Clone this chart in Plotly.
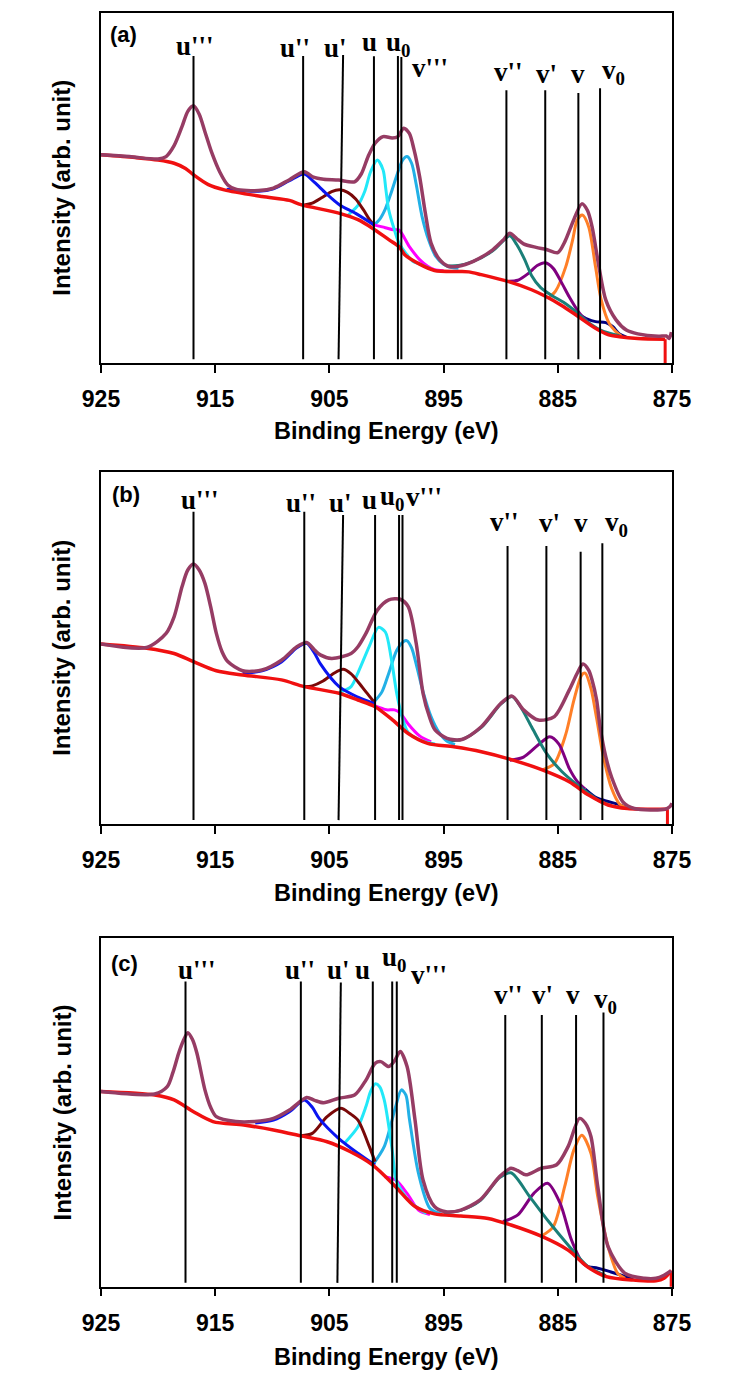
import plotly.graph_objects as go

# ---------------- data (binding energy eV, intensity arb. unit) ----------------
ENERGY_TICKS = [925, 915, 905, 895, 885, 875]
PEAK_LABELS = ["u'''", "u''", "u'", "u", "u<sub>0</sub>", "v'''", "v''", "v'", "v", "v<sub>0</sub>"]
PANEL_TAGS = ["(a)", "(b)", "(c)"]

# ---- panel (a)
A_ENV = [(925.0, 59.4), (922.5, 58.9), (920.0, 58.2), (919.3, 58.9), (918.6, 62.0), (917.9, 67.5), (917.4, 71.8),
         (916.9, 73.4), (916.4, 71.0), (915.9, 66.0), (915.3, 60.0), (914.6, 54.5), (913.9, 50.8), (913.2, 49.6),
         (911.2, 49.2), (909.9, 49.9), (908.5, 52.3), (907.2, 54.6), (906.4, 53.0), (905.5, 52.4), (904.2, 52.2),
         (902.8, 51.7), (902.2, 54.0), (901.6, 59.0), (901.0, 62.7), (900.3, 64.6), (899.5, 64.2), (899.0, 64.6),
         (898.5, 67.0), (898.0, 65.5), (897.6, 61.0), (897.1, 53.2), (896.6, 42.8), (896.1, 34.2), (895.4, 29.7),
         (894.6, 27.6), (893.7, 27.6), (892.4, 29.0), (890.7, 32.3), (889.8, 35.0), (889.2, 37.0), (888.6, 35.5),
         (888.0, 34.0), (886.9, 33.0), (886.0, 32.4), (885.0, 31.5), (884.4, 34.5), (883.6, 40.9), (882.9, 45.4),
         (882.4, 43.5), (882.0, 38.9), (881.4, 27.5), (880.8, 18.0), (879.9, 12.3), (879.0, 9.4), (878.0, 8.3),
         (876.2, 7.6), (875.5, 7.7), (875.25, 7.0), (875.05, 8.8)]
A_BG = [(925.0, 59.4), (922.0, 58.6), (920.0, 57.9), (918.6, 57.0), (917.6, 55.5), (916.9, 53.7), (915.6, 50.9),
        (914.2, 49.4), (910.9, 47.5), (908.5, 46.4), (907.5, 45.2), (904.1, 42.7), (902.5, 40.9), (901.2, 38.4),
        (899.8, 35.2), (898.9, 33.2), (898.4, 30.9), (897.1, 28.2), (895.8, 26.4), (893.7, 26.1), (892.8, 26.0),
        (891.7, 25.2), (889.3, 23.2), (887.3, 20.9), (886.0, 18.9), (884.7, 16.5), (883.4, 13.7), (881.7, 9.9),
        (880.6, 8.1), (879.6, 7.5), (878.0, 7.0), (875.6, 6.8)]
A_BG_DROP = [(875.6, 6.8), (875.6, -1.0)]
A_U2 = [(914.0, 49.6), (911.2, 49.0), (909.9, 49.7), (908.5, 52.0), (907.2, 53.9), (906.3, 51.5), (905.3, 48.4),
        (904.1, 45.1), (902.7, 42.7), (901.1, 39.4)]
A_U1 = [(907.2, 45.1), (906.5, 45.6), (905.6, 47.3), (904.8, 48.9), (904.1, 49.4), (903.4, 48.7), (902.7, 46.8),
        (902.0, 43.6), (901.5, 41.0), (901.1, 39.4)]
A_U = [(903.4, 42.0), (903.1, 43.0), (902.5, 45.0), (901.9, 49.0), (901.4, 54.5), (900.8, 57.9), (900.3, 55.1),
       (900.05, 49.4), (899.8, 43.6), (899.3, 37.9), (898.9, 34.2), (898.3, 31.3), (897.7, 29.0), (897.1, 28.3),
       (896.1, 26.8)]
A_U0 = [(901.1, 39.4), (900.1, 38.6), (899.4, 38.0), (898.9, 37.9), (898.0, 33.2), (897.1, 29.5), (896.4, 27.6),
        (895.8, 26.6), (895.0, 26.3)]
A_V3 = [(901.1, 39.4), (900.6, 41.0), (900.1, 44.0), (899.6, 48.5), (899.1, 53.5), (898.6, 57.8), (898.2, 58.9),
        (897.8, 57.0), (897.4, 51.0), (896.9, 42.0), (896.3, 35.0), (895.7, 30.5), (895.0, 28.2), (894.3, 27.2),
        (893.7, 27.0)]
A_V2 = [(894.6, 27.7), (893.7, 27.8), (892.4, 29.0), (890.7, 32.0), (889.8, 34.8), (889.2, 36.3), (888.6, 33.8),
        (887.9, 29.5), (887.3, 25.0), (886.5, 21.5), (885.5, 19.2), (884.5, 17.3), (883.4, 14.6), (882.3, 11.5),
        (881.0, 9.0), (879.6, 7.8)]
A_V1 = [(889.3, 23.3), (888.5, 23.6), (887.6, 25.5), (886.8, 27.8), (886.1, 28.6), (885.4, 27.0), (884.6, 22.5),
        (884.0, 18.9), (883.1, 14.2), (882.4, 11.8)]
A_V = [(885.8, 18.6), (885.2, 20.5), (884.3, 27.5), (883.7, 35.1), (883.3, 40.8), (882.85, 42.2), (882.3, 38.9),
       (881.7, 27.5), (881.2, 18.0), (880.5, 11.3), (879.9, 8.9), (879.4, 7.6)]
A_V0 = [(883.4, 13.7), (883.1, 13.7), (882.4, 12.5), (881.7, 11.8), (880.8, 11.5), (880.2, 10.4), (879.6, 8.3),
        (879.0, 7.4)]
A_LINE_E_TOP = [916.9, 907.3, 903.8, 901.1, 899.0, 898.7, 889.5, 886.1, 883.2, 881.3]
A_LINE_E_BOT = [916.9, 907.3, 904.2, 901.1, 899.0, 898.7, 889.5, 886.1, 883.2, 881.3]
A_LINE_TOP = [87.6, 87.6, 87.9, 87.5, 87.6, 87.3, 77.8, 77.8, 77.0, 78.4]

# ---- panel (b)
B_ENV = [(925.0, 51.1), (921.0, 50.1), (919.3, 54.1), (918.6, 58.8), (917.9, 67.4), (917.4, 72.1), (916.9, 73.8),
         (916.4, 72.1), (915.9, 68.3), (915.4, 61.7), (914.9, 54.1), (914.4, 48.9), (913.9, 46.1), (912.6, 43.5),
         (910.9, 43.7), (909.2, 46.5), (907.85, 50.3), (907.0, 51.5), (906.3, 49.4), (905.8, 48.0), (904.8, 47.0),
         (903.1, 48.4), (902.5, 50.3), (901.8, 54.1), (900.8, 60.7), (899.8, 63.6), (898.8, 63.8), (898.1, 61.7),
         (897.4, 51.3), (896.8, 37.1), (896.25, 30.5), (895.75, 26.7), (894.7, 24.3), (893.4, 24.0), (891.7, 27.6),
         (890.0, 34.2), (889.0, 36.3), (888.0, 32.4), (886.7, 29.5), (885.3, 30.5), (884.0, 38.0), (883.3, 42.8),
         (882.8, 45.4), (882.3, 43.7), (882.0, 40.9), (881.6, 35.2), (881.3, 27.6), (880.8, 19.1), (880.3, 13.4),
         (879.3, 6.3), (878.3, 4.4), (875.6, 4.2), (875.2, 4.9), (875.0, 5.9)]
B_BG = [(925.0, 51.1), (921.0, 49.9), (918.6, 48.4), (916.9, 46.1), (914.9, 43.5), (912.6, 42.3), (909.2, 40.9),
        (907.2, 39.0), (904.15, 37.1), (902.5, 35.2), (901.0, 33.3), (899.45, 29.5), (898.1, 25.7), (896.4, 22.9),
        (894.1, 21.9), (891.7, 20.5), (889.0, 18.2), (886.3, 15.3), (884.0, 12.0), (882.3, 8.2), (880.6, 5.4),
        (878.9, 4.4), (875.4, 4.2)]
B_BG_DROP = [(875.4, 4.2), (875.4, -1.0)]
B_U2 = [(912.6, 42.8), (910.9, 43.5), (909.2, 46.0), (907.85, 50.0), (907.0, 51.3), (906.3, 48.5), (905.8, 45.5),
        (904.15, 39.0), (902.5, 36.0), (901.0, 34.1)]
B_U1 = [(907.2, 39.0), (906.5, 39.2), (905.6, 40.5), (904.6, 42.8), (903.8, 43.9), (903.1, 42.6), (902.5, 40.4),
        (901.8, 37.5), (901.1, 34.7)]
B_U = [(904.15, 37.3), (903.1, 39.0), (902.5, 42.9), (901.5, 50.5), (900.7, 55.8), (900.1, 54.5), (899.6, 47.3),
       (899.1, 37.0), (898.6, 30.0), (898.1, 26.0), (896.8, 23.5), (895.75, 22.7)]
B_U0 = [(901.0, 33.5), (900.0, 32.4), (899.3, 32.4), (898.8, 31.5), (898.1, 28.4), (897.1, 25.0), (896.1, 23.3)]
B_V3 = [(901.1, 34.6), (900.4, 37.5), (899.8, 42.8), (899.1, 49.3), (898.5, 51.8), (898.2, 52.0), (897.8, 50.0),
        (897.4, 45.4), (896.8, 37.6), (896.1, 30.5), (895.4, 26.0), (894.7, 23.5), (894.0, 22.6)]
B_V2 = [(894.7, 23.6), (893.4, 24.0), (891.7, 27.4), (890.0, 34.0), (889.0, 36.2), (888.3, 33.5), (887.3, 27.6),
        (886.0, 20.1), (884.65, 14.9), (883.3, 11.1), (882.3, 8.7), (881.3, 6.5), (880.6, 5.6)]
B_V1 = [(889.2, 18.1), (888.0, 19.0), (886.7, 22.5), (885.7, 24.8), (884.9, 22.7), (884.0, 15.8), (883.3, 12.1),
        (882.6, 9.9)]
B_V = [(886.3, 15.4), (885.3, 17.2), (884.3, 25.5), (883.6, 35.0), (882.9, 42.3), (882.6, 42.8), (882.1, 38.5),
       (881.6, 30.0), (881.0, 19.0), (880.3, 10.2), (879.6, 5.7), (879.1, 4.7)]
B_V0 = [(882.6, 9.9), (881.6, 7.4), (880.6, 6.4), (879.6, 5.5), (879.1, 4.7)]
B_LINE_E_TOP = [916.9, 907.2, 903.8, 901.0, 898.9, 898.6, 889.4, 886.0, 883.0, 881.1]
B_LINE_E_BOT = [916.9, 907.2, 904.2, 901.0, 898.9, 898.6, 889.4, 886.0, 883.0, 881.1]
B_LINE_TOP = [88.6, 88.6, 87.7, 87.7, 87.7, 87.7, 78.9, 78.9, 77.3, 79.7]

# ---- panel (c)
C_ENV = [(925.0, 56.0), (920.3, 55.3), (919.2, 57.4), (918.7, 61.5), (918.2, 67.0), (917.8, 70.5), (917.4, 72.9),
         (917.0, 71.0), (916.6, 67.0), (915.9, 56.5), (915.4, 51.5), (914.9, 48.8), (913.2, 47.4), (911.55, 47.4),
         (909.9, 48.3), (908.5, 50.7), (907.0, 54.3), (906.3, 53.5), (905.5, 52.8), (904.2, 54.1), (902.8, 55.0),
         (901.8, 59.3), (901.0, 64.1), (900.5, 64.6), (899.8, 63.2), (899.3, 64.8), (898.8, 67.5), (898.2, 63.2),
         (897.5, 47.8), (896.8, 30.6), (895.8, 23.0), (894.8, 21.5), (893.5, 22.0), (891.8, 24.9), (890.1, 31.6),
         (889.1, 34.0), (888.5, 33.3), (887.8, 32.1), (886.45, 34.0), (885.1, 35.0), (884.1, 40.2), (883.1, 48.3),
         (882.6, 47.0), (882.1, 43.1), (881.5, 28.7), (880.6, 11.5), (879.1, 3.8), (877.4, 2.4), (876.4, 2.4),
         (875.7, 3.3), (875.07, 4.6)]
C_BG = [(925.0, 56.0), (920.3, 55.0), (918.6, 53.6), (916.9, 50.2), (915.2, 47.4), (912.5, 46.4), (909.9, 45.0),
        (907.5, 43.3), (905.2, 41.6), (903.2, 38.8), (901.2, 34.9), (899.2, 28.7), (897.5, 23.0), (895.8, 20.9),
        (893.5, 20.3), (891.1, 19.6), (889.1, 17.7), (886.45, 14.5), (884.1, 10.5), (882.4, 5.7), (880.75, 2.9),
        (878.4, 1.9), (876.4, 1.7), (875.7, 2.4), (875.07, 4.6)]
C_BG_DROP = [(875.07, 4.6), (875.07, -1.0)]
C_U2 = [(911.5, 47.0), (909.9, 47.8), (908.5, 50.2), (907.2, 53.6), (906.5, 51.5), (905.9, 48.3), (904.2, 42.6),
        (902.5, 38.3), (901.0, 34.9)]
C_U1 = [(907.5, 43.3), (906.5, 44.0), (905.2, 48.8), (904.0, 51.2), (903.2, 49.7), (902.5, 47.8), (901.5, 40.2),
        (901.0, 35.9)]
C_U = [(903.7, 41.1), (902.5, 45.9), (901.8, 51.7), (901.4, 56.0), (901.0, 58.2), (900.6, 57.4), (900.2, 53.6),
       (899.5, 39.2), (899.2, 31.1), (898.8, 28.2), (897.8, 23.9), (896.5, 21.0)]
C_U0 = [(900.2, 31.6), (899.2, 30.6), (898.2, 26.8), (897.2, 22.0), (896.2, 20.7)]
C_V3 = [(901.2, 35.0), (900.2, 40.2), (899.2, 51.7), (898.7, 56.5), (898.3, 55.0), (898.0, 48.3), (897.2, 32.5),
        (896.2, 22.5), (895.2, 20.8)]
C_V2 = [(895.0, 21.2), (893.5, 21.9), (891.8, 24.7), (890.1, 31.3), (889.1, 32.7), (887.45, 25.8), (885.8, 18.7),
        (884.1, 12.0), (882.4, 5.9), (880.8, 3.2)]
C_V1 = [(889.8, 18.7), (888.5, 20.6), (887.1, 26.8), (885.9, 29.7), (884.8, 24.0), (883.8, 13.4), (882.8, 6.7),
        (882.1, 5.3)]
C_V = [(886.45, 14.5), (885.4, 17.2), (884.4, 28.7), (883.6, 39.2), (882.9, 43.5), (882.1, 38.3), (881.5, 25.8),
       (880.6, 11.5), (879.75, 3.8), (879.1, 2.4)]
C_V0 = [(882.4, 5.7), (881.5, 5.3), (880.4, 4.3), (879.1, 2.9), (878.4, 2.1)]
C_LINE_E_TOP = [917.6, 907.5, 904.0, 901.2, 899.5, 899.1, 889.6, 886.4, 883.4, 881.0]
C_LINE_E_BOT = [917.6, 907.5, 904.3, 901.2, 899.5, 899.1, 889.6, 886.4, 883.4, 881.0]
C_LINE_TOP = [87.6, 87.6, 87.3, 87.6, 87.6, 87.6, 78.0, 78.0, 78.0, 78.7]

# ---------------- layout / style (positions in panel data units) ----------------
LINE_BOTTOM = 1.1
A_LABEL_POS = [(916.8, 90.4), (908.0, 89.8), (904.5, 89.8), (901.5, 91.7), (899.0, 91.0), (896.2, 84.1),
               (889.3, 83.0), (886.0, 82.4), (883.2, 82.4), (880.1, 83.0)]
B_LABEL_POS = [(916.3, 92.1), (907.5, 91.0), (904.0, 91.0), (901.45, 92.1), (899.55, 92.4), (896.75, 92.9),
               (889.7, 85.8), (885.7, 85.5), (883.0, 85.5), (879.9, 85.1)]
C_LABEL_POS = [(916.6, 90.9), (907.6, 90.9), (904.2, 90.9), (902.1, 90.9), (899.3, 94.0), (896.3, 89.5),
               (889.3, 83.7), (886.3, 83.7), (883.7, 83.7), (880.8, 82.1)]
TAG_POS = [(923.0, 93.6), (922.8, 93.4), (922.9, 92.8)]

W, H = 747, 1381
OFF = 8  # page offset of the figure inside the browser window (body margin)
X_PX = (101, 672)
PANEL_PX = [(12.5, 363.0), (471.7, 824.0), (938.3, 1286.7)]   # top, bottom in window pixels
XTITLE_PX = [431, 893, 1357]
YTITLE_X_PX = 62


def px_x(px):
    return (px - OFF) / W


def px_y(px):
    return 1 - (px - OFF) / H


X_DOM = [px_x(X_PX[0]), px_x(X_PX[1])]

COMP_STYLE = [  # (color, width) for v0, v, v', v'', v''', u0, u, u', u''
    ("#00007F", 3), ("#FF7F27", 3), ("#800080", 3), ("#1A7F78", 3), ("#22B0E6", 3),
    ("#FF00FF", 3), ("#22E8F8", 3), ("#7A0808", 3), ("#0A14F0", 3)]
ENV_COLOR = "#963C64"
BG_COLOR = "#F01010"

SANS = "Liberation Sans, Arial, sans-serif"
SERIF = "Liberation Serif, Times New Roman, serif"

panels = [
    dict(env=A_ENV, bg=A_BG, drop=A_BG_DROP, comps=[A_V0, A_V, A_V1, A_V2, A_V3, A_U0, A_U, A_U1, A_U2],
         ltop=A_LINE_E_TOP, lbot=A_LINE_E_BOT, lh=A_LINE_TOP, lab=A_LABEL_POS),
    dict(env=B_ENV, bg=B_BG, drop=B_BG_DROP, comps=[B_V0, B_V, B_V1, B_V2, B_V3, B_U0, B_U, B_U1, B_U2],
         ltop=B_LINE_E_TOP, lbot=B_LINE_E_BOT, lh=B_LINE_TOP, lab=B_LABEL_POS),
    dict(env=C_ENV, bg=C_BG, drop=C_BG_DROP, comps=[C_V0, C_V, C_V1, C_V2, C_V3, C_U0, C_U, C_U1, C_U2],
         ltop=C_LINE_E_TOP, lbot=C_LINE_E_BOT, lh=C_LINE_TOP, lab=C_LABEL_POS),
]

fig = go.Figure()
annotations = []


def xy(pts):
    return [p[0] for p in pts], [p[1] for p in pts]


for i, p in enumerate(panels):
    sfx = "" if i == 0 else str(i + 1)
    xa, ya = "x" + sfx, "y" + sfx
    for pts, (col, wd) in zip(p["comps"], COMP_STYLE):
        x, y = xy(pts)
        fig.add_trace(go.Scatter(x=x, y=y, mode="lines", xaxis=xa, yaxis=ya, showlegend=False,
                                 line=dict(color=col, width=wd, shape="spline", smoothing=0.8), hoverinfo="skip"))
    x, y = xy(p["bg"])
    fig.add_trace(go.Scatter(x=x, y=y, mode="lines", xaxis=xa, yaxis=ya, showlegend=False,
                             line=dict(color=BG_COLOR, width=3.5, shape="spline", smoothing=0.8), hoverinfo="skip"))
    x, y = xy(p["drop"])
    fig.add_trace(go.Scatter(x=x, y=y, mode="lines", xaxis=xa, yaxis=ya, showlegend=False,
                             line=dict(color=BG_COLOR, width=3), hoverinfo="skip"))
    x, y = xy(p["env"])
    fig.add_trace(go.Scatter(x=x, y=y, mode="lines", xaxis=xa, yaxis=ya, showlegend=False,
                             line=dict(color=ENV_COLOR, width=3.5, shape="spline", smoothing=0.8), hoverinfo="skip"))
    # peak position markers
    lx, ly = [], []
    for et, eb, ht in zip(p["ltop"], p["lbot"], p["lh"]):
        lx += [et, eb, None]
        ly += [ht, LINE_BOTTOM, None]
    fig.add_trace(go.Scatter(x=lx, y=ly, mode="lines", xaxis=xa, yaxis=ya, showlegend=False,
                             line=dict(color="black", width=2), hoverinfo="skip"))
    for txt, (ex, iy) in zip(PEAK_LABELS, p["lab"]):
        annotations.append(dict(x=ex, y=iy, xref=xa, yref=ya, text=txt, showarrow=False,
                                font=dict(family=SERIF, size=27, color="black", weight="bold"),
                                xanchor="center", yanchor="middle"))
    tx, ty = TAG_POS[i]
    annotations.append(dict(x=tx, y=ty, xref=xa, yref=ya, text=PANEL_TAGS[i], showarrow=False,
                            font=dict(family=SANS, size=22, color="black", weight="bold"),
                            xanchor="center", yanchor="middle"))
    top, bot = PANEL_PX[i]
    annotations.append(dict(x=px_x(YTITLE_X_PX), y=px_y((top + bot) / 2), xref="paper", yref="paper",
                            text="Intensity (arb. unit)", textangle=-90, showarrow=False,
                            font=dict(family=SANS, size=24, color="black", weight="bold"),
                            xanchor="center", yanchor="middle"))
    annotations.append(dict(x=(X_DOM[0] + X_DOM[1]) / 2, y=px_y(XTITLE_PX[i]), xref="paper", yref="paper",
                            text="Binding Energy (eV)", showarrow=False,
                            font=dict(family=SANS, size=23.5, color="black", weight="bold"),
                            xanchor="center", yanchor="middle"))

layout = dict(width=W, height=H, autosize=False, margin=dict(l=0, r=0, t=0, b=0, pad=0, autoexpand=False),
              template="none", paper_bgcolor="white", plot_bgcolor="white", annotations=annotations,
              showlegend=False)
for i in range(3):
    sfx = "" if i == 0 else str(i + 1)
    top, bot = PANEL_PX[i]
    layout["xaxis" + sfx] = dict(domain=X_DOM, range=[925, 875], anchor="y" + sfx, tickvals=ENERGY_TICKS,
                                 ticks="outside", ticklen=8, tickwidth=1.5, tickcolor="black",
                                 showline=True, linecolor="black", linewidth=1.5, mirror=True,
                                 showgrid=False, zeroline=False, ticklabelstandoff=7, automargin=False,
                                 tickfont=dict(family=SANS, size=23, color="black", weight="bold"))
    layout["yaxis" + sfx] = dict(domain=[px_y(bot), px_y(top)], range=[0, 100], anchor="x" + sfx,
                                 showticklabels=False, ticks="", showline=True, linecolor="black",
                                 linewidth=1.5, mirror=True, showgrid=False, zeroline=False, automargin=False)
fig.update_layout(**layout)
fig.write_html("out.html")
